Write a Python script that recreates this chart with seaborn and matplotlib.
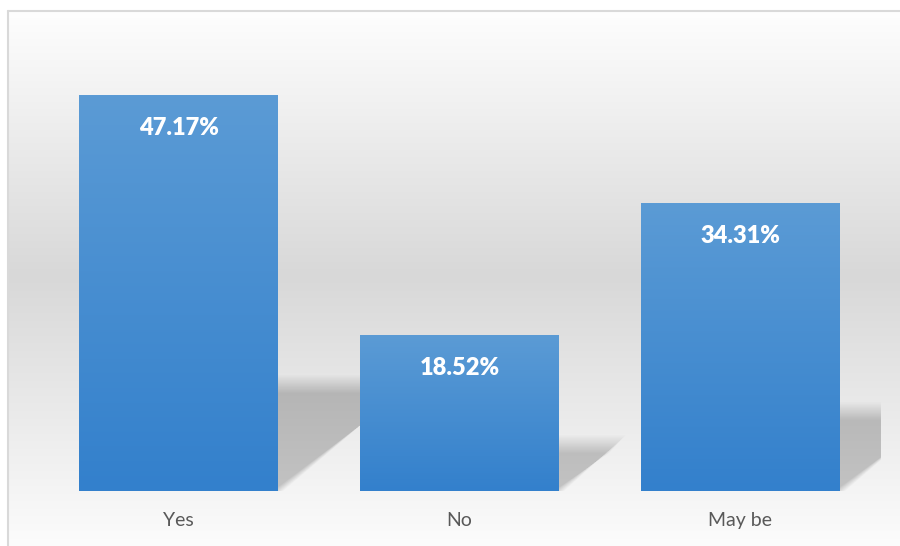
import numpy as np
import pandas as pd
import matplotlib
matplotlib.use("Agg")
import matplotlib.pyplot as plt
import seaborn as sns
from matplotlib.patches import Polygon
from matplotlib.colors import LinearSegmentedColormap

categories = ["Yes", "No", "May be"]
values = [47.17, 18.52, 34.31]
value_labels = ["47.17%", "18.52%", "34.31%"]

sns.set_theme(style="white")
plt.rcParams['font.family'] = ['Lato', 'DejaVu Sans']

W, H = 900, 546
fig = plt.figure(figsize=(W / 100, H / 100), dpi=100)

# background gradient (figure-wide)
bg = fig.add_axes([0, 0, 1, 1], zorder=-10)
bg.axis("off")
ys = np.arange(H)
g = np.interp(ys, [11, 275, 546], [254, 216, 252]) / 255.0
grad_img = np.repeat(g[:, None], 4, axis=1)
grad_rgb = np.dstack([grad_img, grad_img, grad_img])
bg.imshow(grad_rgb[11:], extent=(8, W, H, 11), aspect="auto", interpolation="bilinear")
bg.plot([8, 8], [H, 11], color="#d9d9d9", lw=1.5)
bg.plot([8, W], [11, 11], color="#d9d9d9", lw=1.5)
bg.set_xlim(0, W)
bg.set_ylim(H, 0)

# main axes
ax_left, ax_right, ax_bottom, ax_top = 38, 881, 491, 72.3
ax = fig.add_axes([ax_left / W, 1 - ax_bottom / H, (ax_right - ax_left) / W, (ax_bottom - ax_top) / H])
ax.patch.set_alpha(0)

df = pd.DataFrame({"cat": categories, "val": values})
sns.barplot(data=df, x="cat", y="val", ax=ax, width=0.708, color="#5B9BD5",
            saturation=1, zorder=3, edgecolor="none", linewidth=0)
ax.set_xlim(-0.5, 2.5)
ax.set_ylim(0, 50)

px_x = (ax_right - ax_left) / 3.0
px_y = (ax_bottom - ax_top) / 50.0

cmap = LinearSegmentedColormap.from_list("bar", ["#3380CC", "#5B9BD5"])
grad = np.linspace(0, 1, 256)[:, None]

for p in list(ax.patches):
    x0, w, h = p.get_x(), p.get_width(), p.get_height()
    # gradient fill
    ax.imshow(grad, extent=[x0, x0 + w, 0, h], aspect="auto", cmap=cmap,
              origin="lower", zorder=4, interpolation="bilinear")
    # perspective shadow (soft, layered)
    hs = 0.25 * h + 1.0
    dx = 1.25 * hs * px_y / px_x
    for s in np.linspace(-9, 9, 25):
        hh = hs + s / px_y
        dd = dx + s * 0.9 / px_x
        poly = Polygon([(x0, 0), (x0 + w + s * 0.6 / px_x, 0), (x0 + w + dd, hh), (x0 + dd, hh)],
                       closed=True, facecolor="black", edgecolor="none", alpha=0.0085, zorder=1)
        ax.add_patch(poly)

for i, (v, lab) in enumerate(zip(values, value_labels)):
    ax.text(i, v - 3.82, lab, ha="center", va="center", color="white",
            fontweight="heavy", fontsize=17, zorder=6)

ax.set_xticks(range(len(categories)))
ax.set_xticklabels(categories, fontsize=14, color="#595959")
ax.tick_params(axis="x", length=0, pad=15)
ax.set_yticks([])
ax.set_xlabel("")
ax.set_ylabel("")
for sp in ax.spines.values():
    sp.set_visible(False)

fig.savefig("out.png", dpi=100)
